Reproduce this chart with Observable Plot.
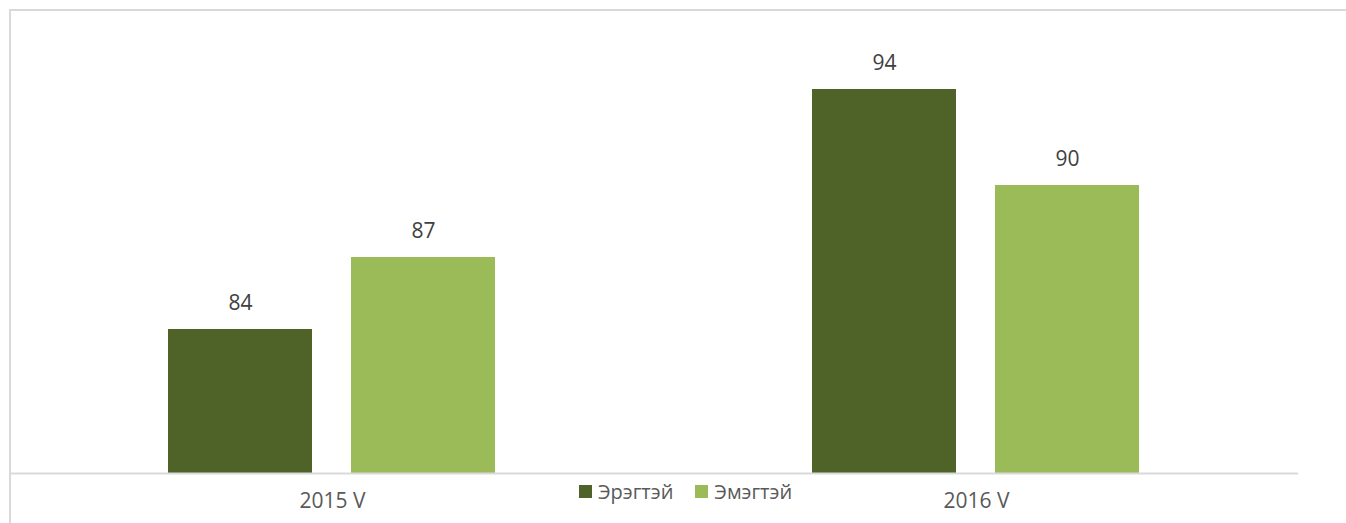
<!DOCTYPE html>
<html>
<head>
<meta charset="utf-8">
<script src="https://cdn.jsdelivr.net/npm/d3@7"></script>
<script src="https://cdn.jsdelivr.net/npm/@observablehq/plot@0.6"></script>
<style>
  html, body { margin: 0; padding: 0; background: #fff; }
  #wrap { position: relative; width: 1346px; height: 523px; overflow: hidden; font-family: "Open Sans", sans-serif; }
  #frame { position: absolute; left: 9px; top: 9px; width: 1400px; height: 600px; border: 2px solid #D9D9D9; box-sizing: border-box; pointer-events: none; }
  #legend { position: absolute; left: 579px; top: 478px; display: flex; align-items: center; font-size: 20px; color: #595959; }
  #legend .sw { width: 13px; height: 13px; display: inline-block; margin-right: 6px; }
  #legend .item { display: flex; align-items: center; margin-right: 22px; }
</style>
</head>
<body>
<div id="wrap">
  <div id="chart"></div>
  <div id="frame"></div>
  <div id="legend"></div>
</div>
<script>
const years = ["2015 V", "2016 V"];
const series = ["Эрэгтэй", "Эмэгтэй"];
const male = [84, 94];
const female = [87, 90];
const colors = ["#4F6228", "#9BBB59"];

const data = [];
years.forEach((y, i) => {
  data.push({year: y, sex: series[0], value: male[i]});
  data.push({year: y, sex: series[1], value: female[i]});
});

const chart = Plot.plot({
  width: 1346,
  height: 523,
  marginLeft: 10,
  marginRight: 48,
  marginTop: 17,
  marginBottom: 50,
  style: {fontFamily: "'Open Sans', sans-serif", background: "#fff"},
  fx: {domain: years, padding: 0, label: null},
  x: {domain: series, paddingInner: 0.213, paddingOuter: 0.866, axis: null},
  y: {domain: [78, 97], axis: null},
  color: {domain: series, range: colors},
  marks: [
    Plot.barY(data, {fx: "year", x: "sex", y1: 78, y2: "value", fill: "sex"}),
    Plot.text(data, {fx: "year", x: "sex", y: "value", text: d => String(d.value), dy: -26, fontSize: 21, fill: "#404040"}),
    Plot.ruleY([78], {stroke: "#D9D9D9", strokeWidth: 2}),
    Plot.axisFx({anchor: "bottom", tickSize: 0, tickPadding: 20, fontSize: 21, color: "#595959", label: null})
  ]
});
document.getElementById("chart").appendChild(chart);

const legend = document.getElementById("legend");
series.forEach((s, i) => {
  const it = document.createElement("div");
  it.className = "item";
  it.innerHTML = `<span class="sw" style="background:${colors[i]}"></span><span>${s}</span>`;
  legend.appendChild(it);
});
</script>
</body>
</html>
